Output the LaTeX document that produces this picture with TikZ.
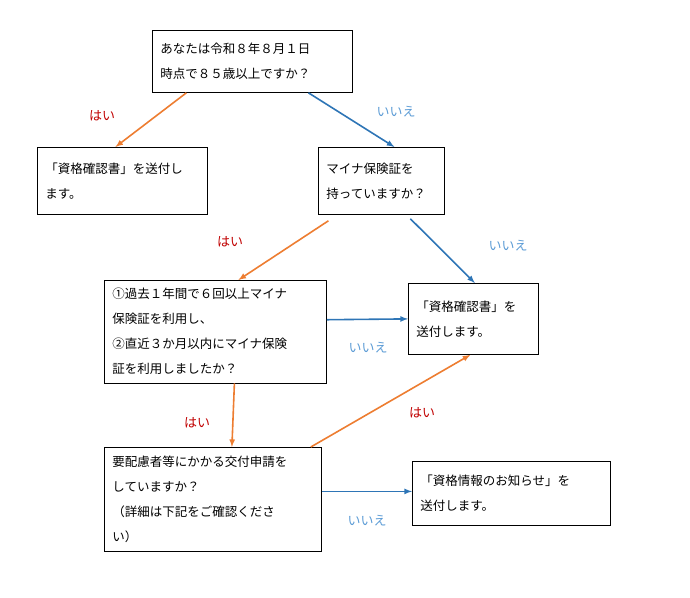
\documentclass[tikz,border=0pt]{standalone}
\usepackage{fontspec}
\setmainfont{Noto Sans CJK JP}
\usetikzlibrary{positioning}
\definecolor{yesline}{HTML}{ED7D31}
\definecolor{noline}{HTML}{2E75B6}
\definecolor{yestext}{HTML}{C00000}
\definecolor{notext}{HTML}{5B9BD5}
\tikzset{
  box/.style={draw,thick,anchor=north west,align=left,inner sep=8pt,font=\fontsize{12.5}{25}\selectfont},
  yes/.style={->,>=latex,yesline,line width=1.6pt},
  no/.style={->,>=latex,noline,line width=1.6pt},
  yeslbl/.style={yestext,font=\fontsize{13}{15}\selectfont},
  nolbl/.style={notext,font=\fontsize{13}{15}\selectfont}
}
\begin{document}
\begin{tikzpicture}[x=1pt,y=-1pt]
  \useasboundingbox (0,0) rectangle (690,597);
  % boxes
  \node[box,minimum width=200,minimum height=62,text width=184] (age) at (152,30) {あなたは令和８年８月１日\\時点で８５歳以上ですか？};
  \node[box,minimum width=170,minimum height=67,text width=154] (cert1) at (37,147) {「資格確認書」を送付し\\ます。};
  \node[box,minimum width=126,minimum height=67,text width=110] (card) at (318,147) {マイナ保険証を\\持っていますか？};
  \node[box,minimum width=222,minimum height=102,text width=206] (use) at (104,280) {①過去１年間で６回以上マイナ\\保険証を利用し、\\②直近３か月以内にマイナ保険\\証を利用しましたか？};
  \node[box,minimum width=130,minimum height=71,text width=114] (cert2) at (408,283) {「資格確認書」を\\送付します。};
  \node[box,minimum width=217,minimum height=104,text width=201] (spouse) at (104,447) {要配慮者等にかかる交付申請を\\していますか？\\（詳細は下記をご確認くださ\\い）};
  \node[box,minimum width=198,minimum height=64,text width=182] (info) at (412,461) {「資格情報のお知らせ」を\\送付します。};
  % connectors
  \draw[yes] ([xshift=-66]age.south) -- ([xshift=-7]cert1.north);
  \draw[no] ([xshift=56]age.south) -- ([xshift=13]card.north);
  \draw[yes] ([xshift=-53,yshift=-6]card.south) -- ([xshift=23]use.north);
  \draw[no] ([xshift=29,yshift=-4]card.south) -- ([xshift=-64]cert2.north east);
  \draw[no] ([yshift=12]use.east) -- (cert2.west);
  \draw[yes] ([xshift=19]use.south) -- ([xshift=19]spouse.north);
  \draw[yes] ([xshift=-11]spouse.north east) -- ([xshift=-3]cert2.south);
  \draw[no] ([yshift=8]spouse.east) -- ([yshift=2]info.west);
  % labels
  \node[yeslbl] (y1) at (102,116) {はい};
  \node[nolbl] (n1) at (396,112) {いいえ};
  \node[yeslbl] (y2) at (230,242) {はい};
  \node[nolbl] (n2) at (508,246) {いいえ};
  \node[nolbl] (n3) at (368,348) {いいえ};
  \node[yeslbl] (y3) at (197,423) {はい};
  \node[yeslbl] (y4) at (422,413) {はい};
  \node[nolbl] (n4) at (367,521) {いいえ};
\end{tikzpicture}
\end{document}
